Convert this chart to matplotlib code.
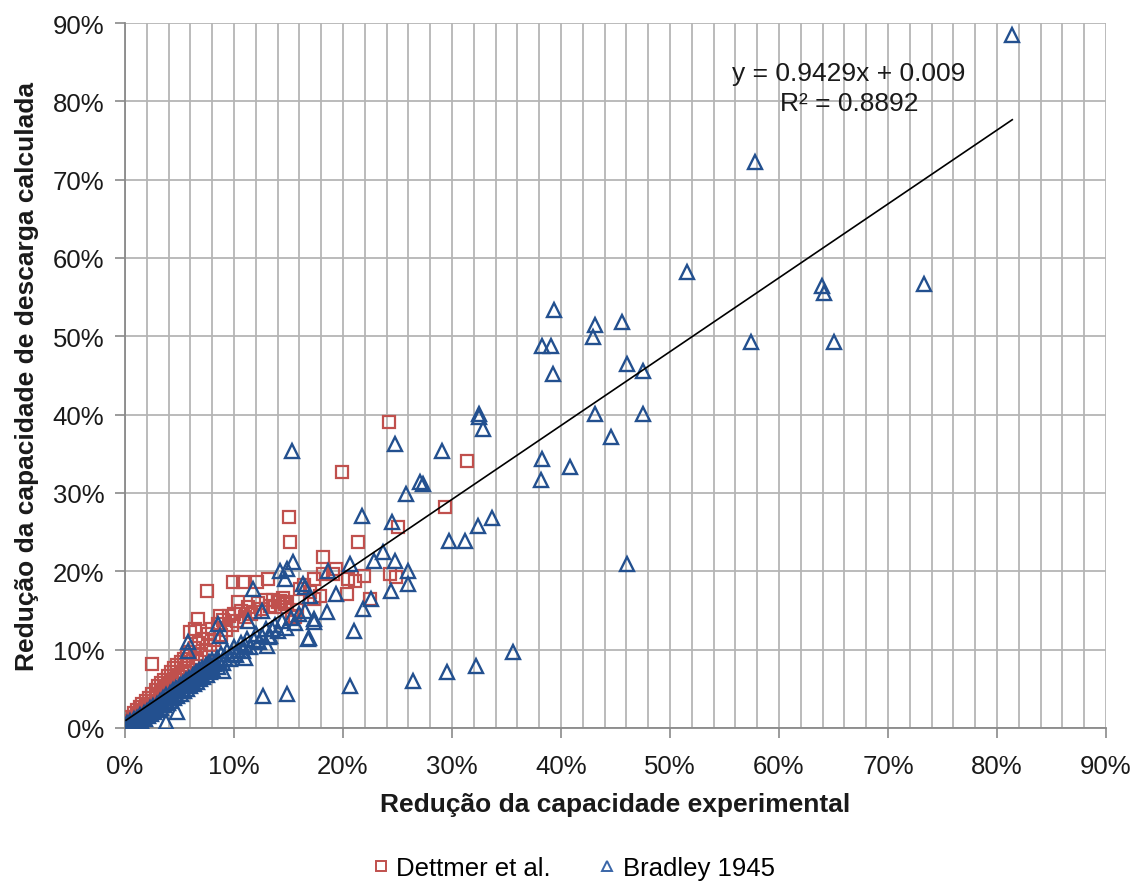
import numpy as np
import matplotlib
matplotlib.use("Agg")
import matplotlib.pyplot as plt
from matplotlib.ticker import PercentFormatter, MultipleLocator
from matplotlib.lines import Line2D

plt.rcParams['font.family'] = ['Liberation Sans', 'DejaVu Sans']

# Dettmer et al. (x = experimental reduction %, y = calculated reduction %)
dettmer_x = [0.2, 0.3, 0.5, 0.5, 0.7, 0.8, 1.0, 1.1, 1.2, 1.4, 1.5, 1.6, 1.8, 1.9, 2.0,
             2.2, 2.3, 2.45, 2.5, 2.6, 2.8, 2.9, 3.0, 3.2, 3.3, 3.4, 3.6, 3.7, 3.9, 4.0,
             4.2, 4.3, 4.5, 4.6, 4.8, 4.9, 5.1, 5.2, 5.4, 5.5, 5.7, 5.8, 6.0, 6.0, 6.2,
             6.4, 6.4, 6.6, 6.7, 6.8, 7.0, 7.2, 7.4, 7.5, 7.6, 7.8, 8.0, 8.2, 8.5, 8.7,
             8.8, 9.0, 9.3, 9.5, 9.8, 9.9, 10.0, 10.3, 10.4, 10.6, 10.8, 11.0, 11.3, 11.6,
             11.9, 12.1, 12.2, 12.5, 12.9, 13.1, 13.3, 13.6, 13.8, 14.0, 14.2, 14.3, 14.5,
             14.7, 14.9, 15.0, 15.1, 15.3, 15.6, 15.8, 16.1, 16.4, 17.0, 17.3, 17.3, 17.9,
             18.2, 18.2, 19.1, 19.4, 19.9, 20.4, 20.5, 21.1, 21.4, 21.9, 22.5, 24.2, 24.3,
             24.9, 25.0, 29.4, 31.4]
dettmer_y = [0.4, 0.9, 0.6, 1.4, 1.1, 1.9, 1.4, 2.3, 1.7, 2.7, 2.0, 3.1, 2.4, 3.4, 2.8,
             3.8, 3.1, 8.2, 4.3, 3.5, 4.8, 3.9, 5.3, 4.3, 5.7, 4.7, 6.1, 5.1, 6.6, 5.5,
             7.1, 5.9, 7.6, 6.3, 8.0, 6.8, 8.4, 7.2, 8.8, 7.6, 9.2, 8.0, 12.3, 9.7, 8.5,
             12.6, 10.2, 9.0, 13.9, 10.8, 9.5, 11.4, 10.0, 17.5, 12.0, 10.6, 12.6, 11.2, 13.3, 14.3,
             11.9, 13.8, 12.5, 14.3, 13.1, 18.6, 14.6, 13.7, 16.1, 15.0, 18.6, 14.2, 15.5, 14.6,
             14.8, 18.6, 16.0, 15.2, 16.4, 19.0, 15.6, 16.3, 15.5, 16.1, 16.2, 15.4, 16.6,
             15.8, 16.1, 27.0, 23.8, 14.3, 14.2, 15.1, 17.8, 18.2, 17.3, 16.5, 19.0, 16.9,
             21.8, 19.7, 19.7, 20.3, 32.7, 17.1, 19.0, 18.8, 23.8, 19.4, 16.5, 39.1, 19.7,
             19.3, 25.7, 28.2, 34.1]

# Bradley 1945
bradley_x = [0.1, 0.2, 0.3, 0.4, 0.5, 0.6, 0.7, 0.8, 0.9, 1.0, 1.1, 1.2, 1.3, 1.4, 1.5,
             1.6, 1.7, 1.8, 1.9, 2.0, 2.1, 2.2, 2.3, 2.4, 2.5, 2.6, 2.7, 2.8, 2.9, 3.0,
             3.1, 3.2, 3.3, 3.4, 3.5, 3.6, 3.7, 3.8, 3.8, 3.9, 4.0, 4.1, 4.2, 4.3, 4.4,
             4.5, 4.6, 4.7, 4.8, 4.8, 4.9, 5.0, 5.1, 5.2, 5.3, 5.4, 5.5, 5.6, 5.7, 5.8,
             5.8, 5.8, 5.9, 6.0, 6.1, 6.2, 6.3, 6.4, 6.5, 6.6, 6.7, 6.8, 6.9, 7.0, 7.1,
             7.2, 7.3, 7.4, 7.5, 7.6, 7.7, 7.8, 7.9, 8.0, 8.1, 8.2, 8.4, 8.5, 8.5, 8.6,
             8.7, 8.8, 9.0, 9.0, 9.2, 9.4, 9.6, 9.8, 10.0, 10.2, 10.4, 10.6, 10.8, 11.0,
             11.0, 11.2, 11.3, 11.5, 11.7, 11.8, 12.0, 12.3, 12.6, 12.6, 12.7, 12.9, 13.0,
             13.2, 13.3, 13.5, 13.8, 14.0, 14.2, 14.4, 14.7, 14.8, 14.9, 14.9, 15.2, 15.3,
             15.4, 15.6, 16.0, 16.3, 16.5, 16.5, 16.8, 16.9, 17.0, 17.3, 17.3, 18.5, 18.6,
             19.4, 20.6, 20.6, 21.0, 21.7, 21.8, 22.6, 22.8, 23.7, 24.4, 24.5, 24.8, 24.8,
             25.8, 26.0, 26.0, 26.4, 27.1, 27.3, 29.1, 29.5, 29.7, 31.2, 32.2, 32.4, 32.5,
             32.5, 32.8, 33.7, 35.6, 38.2, 38.3, 38.3, 39.1, 39.3, 39.4, 40.8, 42.9, 43.1,
             43.1, 44.6, 45.6, 46.1, 46.1, 47.5, 47.5, 51.6, 57.4, 57.8, 63.9, 64.1, 65.0,
             73.3, 81.4]
bradley_y = [0.2, 0.6, 0.1, 0.4, 0.9, 0.3, 0.7, 1.1, 0.5, 0.9, 1.3, 0.7, 1.1, 1.6, 0.9,
             1.4, 1.9, 1.2, 1.7, 2.2, 1.5, 2.0, 2.5, 1.8, 2.3, 2.8, 2.0, 2.6, 3.1, 2.3,
             2.9, 3.5, 2.6, 3.2, 3.8, 2.9, 3.5, 0.8, 4.2, 3.2, 3.8, 4.5, 3.5, 4.1, 4.8,
             3.8, 4.4, 5.1, 2.0, 4.1, 4.7, 5.5, 4.4, 5.0, 5.8, 4.7, 5.3, 6.1, 5.0, 9.8,
             11.0, 5.7, 6.4, 5.3, 6.0, 6.8, 5.6, 6.3, 7.1, 5.9, 6.6, 7.4, 6.2, 6.9, 7.7,
             6.5, 7.3, 8.0, 6.8, 7.6, 8.4, 7.1, 7.9, 8.7, 7.4, 8.2, 9.0, 13.3, 7.8, 8.6,
             11.8, 9.4, 7.3, 8.3, 9.0, 9.8, 8.8, 9.5, 10.3, 9.3, 10.0, 10.8, 9.8, 9.0,
             10.6, 11.4, 13.7, 10.4, 17.8, 11.2, 12.0, 11.0, 14.9, 11.8, 4.1, 12.6, 10.5,
             11.6, 11.8, 12.6, 13.2, 12.4, 20.1, 13.6, 19.0, 12.8, 4.3, 20.3, 14.0, 35.4,
             21.2, 13.4, 14.5, 18.4, 14.9, 18.0, 11.4, 11.5, 16.9, 13.9, 13.5, 14.8, 20.1,
             17.1, 21.0, 5.3, 12.4, 27.1, 15.2, 16.5, 21.3, 22.5, 17.5, 26.3, 21.3, 36.3,
             29.9, 20.1, 18.4, 6.0, 31.4, 31.2, 35.4, 7.2, 23.9, 23.9, 7.9, 25.8, 40.1,
             39.7, 38.2, 26.8, 9.7, 31.7, 48.8, 34.4, 48.8, 45.2, 53.3, 33.3, 49.9, 51.4,
             40.1, 37.2, 51.8, 46.5, 20.9, 45.6, 40.1, 58.2, 49.3, 72.3, 56.4, 55.5, 49.3,
             56.7, 88.5]

# Linear trendline coefficients (fraction units)
trend_slope = 0.9429
trend_intercept = 0.009
trend_r2 = 0.8892

RED = '#c0504d'
BLUE = '#23508f'
GRID = '#b5b5b5'
AXIS = '#8a8a8a'
TEXT = '#1a1a1a'

fig = plt.figure(figsize=(11.41, 8.87), dpi=100)
ax = fig.add_axes([125 / 1141, 1 - 729 / 887, 981 / 1141, 705 / 887])

ax.plot(dettmer_x, dettmer_y, linestyle='none', marker='s', markersize=8.8,
        markerfacecolor='none', markeredgecolor=RED, markeredgewidth=1.6, zorder=3)
ax.plot(bradley_x, bradley_y, linestyle='none', marker='^', markersize=9.8,
        markerfacecolor='none', markeredgecolor=BLUE, markeredgewidth=1.7, zorder=4)

# trendline over the range of the data
all_x = np.array(dettmer_x + bradley_x)
tx = np.array([all_x.min(), all_x.max()])
ty = (trend_slope * tx / 100 + trend_intercept) * 100
ax.plot(tx, ty, color='black', linewidth=1.2, zorder=5)

ax.text(66.4, 81.7, f"y = {trend_slope}x + {trend_intercept}\nR² = {trend_r2}",
        ha='center', va='center', multialignment='center', fontsize=19,
        linespacing=1.3, color=TEXT, zorder=6)

ax.set_xlim(0, 90)
ax.set_ylim(0, 90)
ax.xaxis.set_major_locator(MultipleLocator(10))
ax.xaxis.set_minor_locator(MultipleLocator(2))
ax.yaxis.set_major_locator(MultipleLocator(10))
ax.xaxis.set_major_formatter(PercentFormatter(100, decimals=0))
ax.yaxis.set_major_formatter(PercentFormatter(100, decimals=0))

ax.grid(which='both', axis='x', color=GRID, linewidth=1.3, zorder=0)
ax.grid(which='major', axis='y', color=GRID, linewidth=1.3, zorder=0)
ax.set_axisbelow(True)

for s in ('top', 'right'):
    ax.spines[s].set_visible(False)
for s in ('left', 'bottom'):
    ax.spines[s].set_color(AXIS)
    ax.spines[s].set_linewidth(1.3)

ax.tick_params(axis='both', which='major', labelsize=18.5, colors=TEXT,
               length=7, width=1.2, color=AXIS, direction='out')
ax.tick_params(axis='x', which='minor', length=0)
ax.tick_params(axis='x', pad=12)
ax.tick_params(axis='y', pad=8)

ax.set_xlabel('Redução da capacidade experimental', fontsize=19, fontweight='bold',
              labelpad=10, color=TEXT)
ax.set_ylabel('Redução da capacidade de descarga calculada', fontsize=19,
              fontweight='bold', labelpad=10, color=TEXT)

handles = [
    Line2D([], [], linestyle='none', marker='s', markersize=6.5, markerfacecolor='none',
           markeredgecolor=RED, markeredgewidth=1.4, label='Dettmer et al.'),
    Line2D([], [], linestyle='none', marker='^', markersize=7, markerfacecolor='none',
           markeredgecolor='#3a66a8', markeredgewidth=1.4, label='Bradley 1945'),
]
fig.legend(handles=handles, loc='center', bbox_to_anchor=(0.503, 0.02), ncol=2,
           frameon=False, fontsize=18.5, handlelength=0.6, handletextpad=0.3,
           columnspacing=1.9)

fig.savefig('out.png', dpi=100)
